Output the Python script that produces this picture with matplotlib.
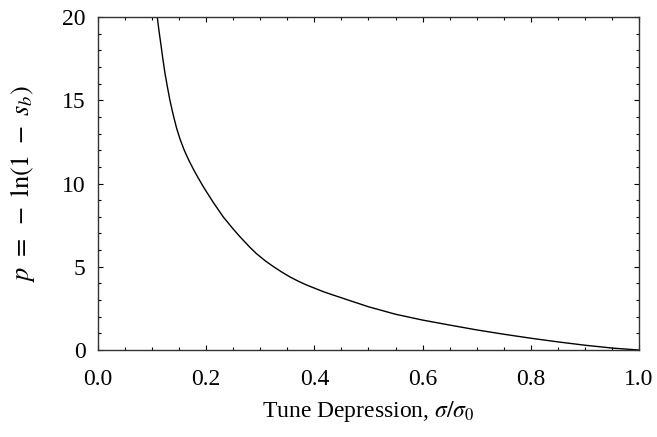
import numpy as np
import matplotlib
matplotlib.use("Agg")
import matplotlib.pyplot as plt
from matplotlib.ticker import MultipleLocator

# values
tune_depression = [0.1097, 0.1130, 0.1165, 0.1200, 0.1238, 0.1285, 0.1331, 0.1390,
                   0.1454, 0.1520, 0.1596, 0.1680, 0.1762, 0.1850, 0.1935, 0.2000,
                   0.214, 0.232, 0.250, 0.263, 0.280, 0.293, 0.310, 0.324, 0.340,
                   0.355, 0.370, 0.386, 0.400, 0.417, 0.435, 0.450, 0.460, 0.500,
                   0.550, 0.600, 0.650, 0.700, 0.750, 0.800, 0.850, 0.900, 0.950,
                   1.000]
p_values = [20.0, 19.15, 18.34, 17.5, 16.66, 15.8, 15.0, 14.15,
            13.33, 12.65, 12.0, 11.40, 10.88, 10.36, 9.88, 9.54,
            8.83, 7.98, 7.27, 6.79, 6.2, 5.79, 5.34, 5.02, 4.68,
            4.39, 4.14, 3.9, 3.72, 3.5, 3.3, 3.14, 3.03, 2.6,
            2.15, 1.80, 1.50, 1.21, 0.95, 0.71, 0.49, 0.29, 0.12,
            0.0]

plt.rcParams['font.family'] = ['Liberation Serif', 'DejaVu Serif']
plt.rcParams['mathtext.fontset'] = 'stix'
plt.rcParams['font.size'] = 17

fig = plt.figure(figsize=(6.57, 4.37), dpi=100)
ax = fig.add_axes([0.149, 0.199, 0.9726 - 0.149, 0.961 - 0.199])

ax.plot(tune_depression, p_values, color='black', lw=1.0)

ax.set_xlim(0, 1)
ax.set_ylim(0, 20)
ax.xaxis.set_major_locator(MultipleLocator(0.2))
ax.xaxis.set_minor_locator(MultipleLocator(0.05))
ax.yaxis.set_major_locator(MultipleLocator(5))
ax.yaxis.set_minor_locator(MultipleLocator(1))
ax.xaxis.set_major_formatter(plt.FormatStrFormatter('%.1f'))

ax.tick_params(which='both', direction='in', top=True, right=True, width=0.8)
ax.tick_params(which='major', length=3.5)
ax.tick_params(which='minor', length=2)
ax.tick_params(axis='x', which='major', pad=14)
ax.tick_params(axis='y', which='major', pad=9)
for s in ax.spines.values():
    s.set_linewidth(1.0)
    s.set_color('#333333')

ax.set_xlabel(r'Tune Depression, $\sigma/\sigma_0$', labelpad=6)
ax.set_ylabel(r'$p\ =\ -\ \ln(1\ -\ s_b)$', fontsize=19, labelpad=18)

fig.savefig('out.png', dpi=100)
